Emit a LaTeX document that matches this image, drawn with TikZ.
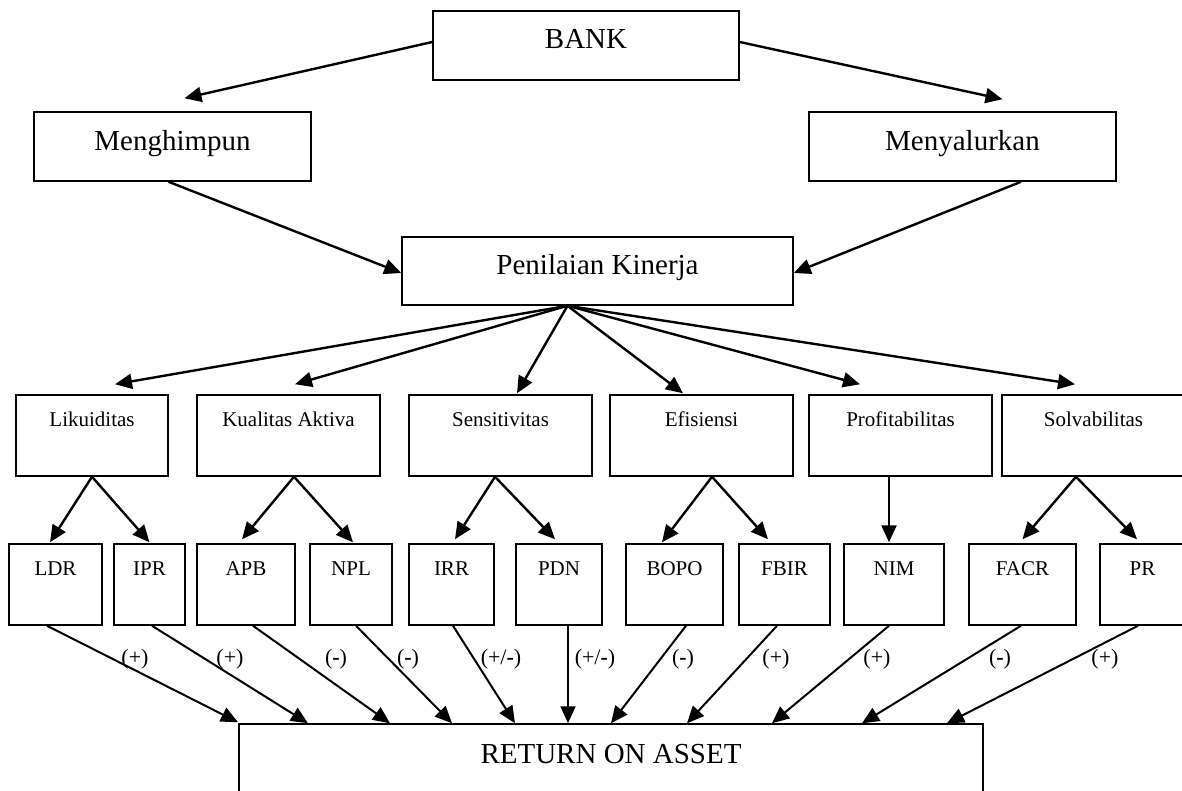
\documentclass[tikz,border=0pt]{standalone}
\usepackage{fontspec}
\setmainfont{Liberation Serif}
\usetikzlibrary{arrows.meta}
\begin{document}
\begin{tikzpicture}[x=1pt,y=-1pt,
  box/.style={draw, line width=1.5pt, inner sep=0pt, align=center},
  big/.style={font=\fontsize{29}{34}\selectfont},
  small/.style={font=\fontsize{21}{25}\selectfont},
  topbox/.style={text height=37pt, text depth=32pt, minimum height=69pt},
  rowbox/.style={small, text height=31pt, text depth=50pt, minimum height=81pt},
  arr/.style={line width=2.4pt, -{Triangle[length=17pt,width=15pt]}},
  arrb/.style={line width=2pt, -{Triangle[length=17pt,width=15pt]}},
  sgn/.style={font=\fontsize{22}{26}\selectfont, inner sep=0pt}]
\useasboundingbox (0,0) rectangle (1182,790);
\clip (0,0) rectangle (1182,790);

% top level
\node[box,big,topbox,minimum width=306pt] (bank) at (586,45.5) {BANK};
\node[box,big,text height=38pt,text depth=31pt,minimum height=69pt,minimum width=277pt] (mh) at (172.5,146.5) {Menghimpun};
\node[box,big,text height=38pt,text depth=31pt,minimum height=69pt,minimum width=307pt] (ms) at (962.5,146.5) {Menyalurkan};
\node[box,big,text height=37pt,text depth=31pt,minimum height=68pt,minimum width=391pt] (pk) at (597.5,271) {Penilaian Kinerja};

% row 3
\node[box,rowbox,minimum width=152pt] (lik) at (92,435.5) {Likuiditas};
\node[box,rowbox,minimum width=183pt] (ka) at (288.5,435.5) {Kualitas Aktiva};
\node[box,rowbox,minimum width=183pt] (sen) at (500.5,435.5) {Sensitivitas};
\node[box,rowbox,minimum width=183pt] (efi) at (701.5,435.5) {Efisiensi};
\node[box,rowbox,minimum width=183pt] (pro) at (900.5,435.5) {Profitabilitas};
\node[box,rowbox,minimum width=183pt] (sol) at (1093.5,435.5) {Solvabilitas};

% row 4
\node[box,rowbox,minimum width=93pt] (ldr) at (55.5,584.5) {LDR};
\node[box,rowbox,minimum width=71pt] (ipr) at (149.5,584.5) {IPR};
\node[box,rowbox,minimum width=98pt] (apb) at (246,584.5) {APB};
\node[box,rowbox,minimum width=82pt] (npl) at (351,584.5) {NPL};
\node[box,rowbox,minimum width=85pt] (irr) at (451.5,584.5) {IRR};
\node[box,rowbox,minimum width=86pt] (pdn) at (559,584.5) {PDN};
\node[box,rowbox,minimum width=97pt] (bopo) at (674.5,584.5) {BOPO};
\node[box,rowbox,minimum width=91pt] (fbir) at (784.5,584.5) {FBIR};
\node[box,rowbox,minimum width=100pt] (nim) at (894,584.5) {NIM};
\node[box,rowbox,minimum width=107pt] (facr) at (1022.5,584.5) {FACR};
\node[box,rowbox,minimum width=85pt] (pr) at (1142.5,584.5) {PR};

% bottom
\node[box,big,minimum width=744pt,minimum height=106pt,text height=39pt,text depth=67pt] (roa) at (611,777) {RETURN ON ASSET};

% top arrows
\draw[arr] ([yshift=3.5pt]bank.west) -- ([xshift=12pt,yshift=13pt]mh.north);
\draw[arr] ([yshift=3.5pt]bank.east) -- ([xshift=40pt,yshift=12pt]ms.north);
\draw[arr] ([xshift=-4pt]mh.south) -- ([yshift=-2pt]pk.west);
\draw[arr] ([xshift=58.5pt]ms.south) -- ([yshift=-2pt]pk.east);

% Penilaian to row 3
\draw[arr] ([xshift=-30pt]pk.south) -- ([xshift=23pt,yshift=10pt]lik.north);
\draw[arr] ([xshift=-30pt]pk.south) -- ([xshift=6.5pt,yshift=10pt]ka.north);
\draw[arr] ([xshift=-30pt]pk.south) -- ([xshift=16.5pt,yshift=1pt]sen.north);
\draw[arr] ([xshift=-30pt]pk.south) -- ([xshift=-18.5pt,yshift=1pt]efi.north);
\draw[arr] ([xshift=-30pt]pk.south) -- ([xshift=-40.5pt,yshift=10pt]pro.north);
\draw[arr] ([xshift=-30pt]pk.south) -- ([xshift=-18.5pt,yshift=10pt]sol.north);

% row 3 to row 4
\draw[arr] (lik.south) -- ([xshift=-5.5pt,yshift=1pt]ldr.north);
\draw[arr] (lik.south) -- ([yshift=1pt]ipr.north);
\draw[arr] ([xshift=5.5pt]ka.south) -- ([xshift=-4pt,yshift=4pt]apb.north);
\draw[arr] ([xshift=5.5pt]ka.south) -- ([xshift=2pt,yshift=1pt]npl.north);
\draw[arr] ([xshift=-5.5pt]sen.south) -- ([xshift=3.5pt,yshift=4pt]irr.north);
\draw[arr] ([xshift=-5.5pt]sen.south) -- ([xshift=-4pt,yshift=4pt]pdn.north);
\draw[arr] ([xshift=10.5pt]efi.south) -- ([xshift=-12.5pt,yshift=1pt]bopo.north);
\draw[arr] ([xshift=10.5pt]efi.south) -- ([xshift=-16.5pt,yshift=4pt]fbir.north);
\draw[arr] ([xshift=-11.5pt]pro.south) -- ([xshift=-5pt,yshift=1pt]nim.north);
\draw[arr] ([xshift=-17.5pt]sol.south) -- ([yshift=4pt]facr.north);
\draw[arr] ([xshift=-17.5pt]sol.south) -- ([xshift=-5.5pt,yshift=4pt]pr.north);

% row 4 to ROA
\draw[arrb] ([xshift=-8.5pt]ldr.south) -- ([xshift=-373pt,yshift=1pt]roa.north);
\draw[arrb] ([xshift=2.5pt]ipr.south) -- ([xshift=-303pt]roa.north);
\draw[arrb] ([xshift=7pt]apb.south) -- ([xshift=-221pt]roa.north);
\draw[arrb] ([xshift=5pt]npl.south) -- ([xshift=-159pt]roa.north);
\draw[arrb] ([xshift=1.5pt]irr.south) -- ([xshift=-96pt]roa.north);
\draw[arrb] ([xshift=9pt]pdn.south) -- ([xshift=-43pt]roa.north);
\draw[arrb] ([xshift=11.5pt]bopo.south) -- (roa.north);
\draw[arrb] ([xshift=-7.5pt]fbir.south) -- ([xshift=76pt]roa.north);
\draw[arrb] ([xshift=-5pt]nim.south) -- ([xshift=161pt]roa.north);
\draw[arrb] ([xshift=-1.5pt]facr.south) -- ([xshift=251pt]roa.north);
\draw[arrb] ([xshift=-4.5pt]pr.south) -- ([xshift=336pt]roa.north);

% signs
\node[sgn] (s1) at (135,659) {(+)};
\node[sgn] (s2) at (230,659) {(+)};
\node[sgn] (s3) at (336,659) {(\textbf{-})};
\node[sgn] (s4) at (408,659) {(\textbf{-})};
\node[sgn] (s5) at (501,659) {(+/\textbf{-})};
\node[sgn] (s6) at (595,659) {(+/\textbf{-})};
\node[sgn] (s7) at (683,659) {(\textbf{-})};
\node[sgn] (s8) at (776,659) {(+)};
\node[sgn] (s9) at (877,659) {(+)};
\node[sgn] (s10) at (1000,659) {(\textbf{-})};
\node[sgn] (s11) at (1105,659) {(+)};
\end{tikzpicture}
\end{document}
